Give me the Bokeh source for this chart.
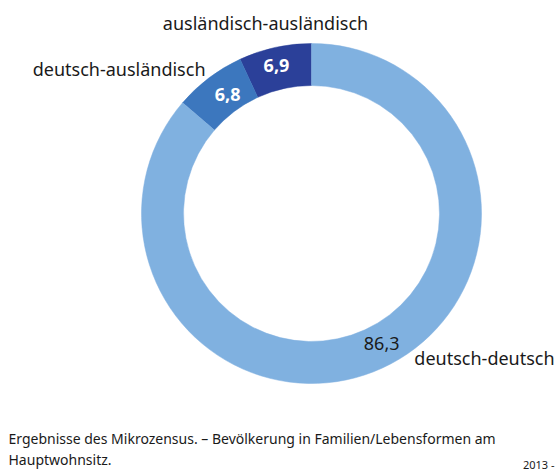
import math
from bokeh.plotting import figure
from bokeh.models import Range1d, Label, ColumnDataSource
from bokeh.embed import file_html
from bokeh.resources import INLINE

categories = ["ausländisch-ausländisch", "deutsch-ausländisch", "deutsch-deutsch"]
values = [6.9, 6.8, 86.3]
value_labels = ["6,9", "6,8", "86,3"]
colors = ["#2B4099", "#3C77BE", "#80B1E0"]
note = "Ergebnisse des Mikrozensus. – Bevölkerung in Familien/Lebensformen am\nHauptwohnsitz."
source_note = "2013 -"

W, H = 556, 470
FONT = "Noto Sans"

p = figure(width=W, height=H, output_backend="svg", toolbar_location=None,
           x_range=Range1d(0, W), y_range=Range1d(0, H), min_border=0)
p.axis.visible = False
p.grid.visible = False
p.outline_line_color = None

def py(page_y):
    return H - page_y

def px(page_x):
    return page_x

cx, cy = px(311), py(213)
r_in, r_out = 128, 170

total = sum(values)
starts, ends = [], []
a = math.pi / 2
for v in values:
    starts.append(a)
    a += v / total * 2 * math.pi
    ends.append(a)

src = ColumnDataSource(dict(start=starts, end=ends, color=colors))
p.annular_wedge(x=cx, y=cy, inner_radius=r_in, outer_radius=r_out,
                start_angle="start", end_angle="end", fill_color="color",
                line_color="color", line_width=0.5, source=src)

# value labels
r_mid = (r_in + r_out) / 2
text_colors = ["white", "white", "#1a1a1a"]
weights = ["bold", "bold", "normal"]
offs = [(-3, 2), (6, 0), (8, 5)]
for i in range(3):
    m = (starts[i] + ends[i]) / 2
    x = cx + r_mid * math.cos(m) + offs[i][0]
    y = cy + r_mid * math.sin(m) + offs[i][1]
    p.add_layout(Label(x=x, y=y, text=value_labels[i], text_align="center",
                       text_baseline="middle", text_font=FONT, text_font_size="18px",
                       text_color=text_colors[i], text_font_style=weights[i]))

# category labels
cat_pos = [(px(265), py(22), "center"), (px(205), py(68), "right"), (px(484), py(357), "center")]
for i, (x, y, al) in enumerate(cat_pos):
    p.add_layout(Label(x=x, y=y, text=categories[i], text_align=al,
                       text_baseline="middle", text_font=FONT, text_font_size="18px",
                       text_color="#1a1a1a"))

p.add_layout(Label(x=px(8), y=py(428), text=note, text_align="left", text_baseline="top",
                   text_font=FONT, text_font_size="14px", text_color="#1a1a1a",
                   text_line_height=1.15))
p.add_layout(Label(x=px(554), y=py(456), text=source_note, text_align="right", text_baseline="top",
                   text_font=FONT, text_font_size="11px", text_color="#1a1a1a"))

open("out.html", "w").write(file_html(p, INLINE))
